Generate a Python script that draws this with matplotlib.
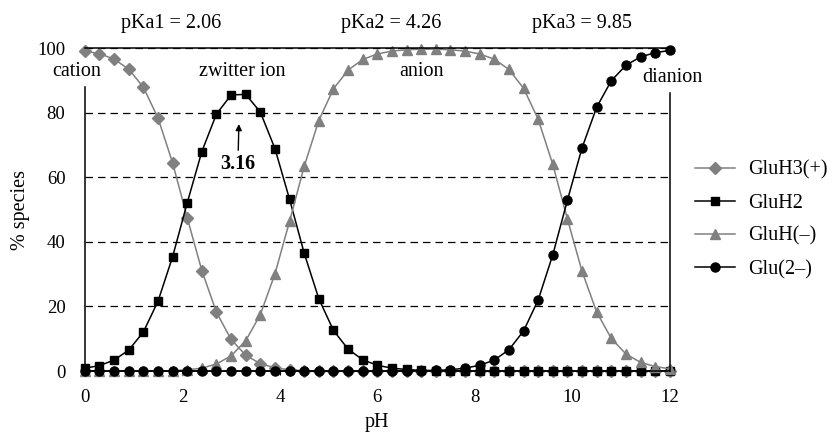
#import libraries
import numpy as np
import matplotlib.pyplot as plt

plt.rcParams['font.family'] = ['Liberation Serif', 'DejaVu Serif']

#pH values, one point every 0.3
ph = [0.0, 0.3, 0.6, 0.9, 1.2, 1.5, 1.8, 2.1, 2.4, 2.7, 3.0, 3.3, 3.6, 3.9, 4.2,
      4.5, 4.8, 5.1, 5.4, 5.7, 6.0, 6.3, 6.6, 6.9, 7.2, 7.5, 7.8, 8.1, 8.4, 8.7,
      9.0, 9.3, 9.6, 9.9, 10.2, 10.5, 10.8, 11.1, 11.4, 11.7, 12.0]

#% of each species
gluh3 = [99.1, 98.3, 96.6, 93.5, 87.9, 78.4, 64.5, 47.5, 31.1, 18.2, 9.8, 4.9, 2.3, 1.0, 0.4,
         0.1, 0.0, 0.0, 0.0, 0.0, 0.0, 0.0, 0.0, 0.0, 0.0, 0.0, 0.0, 0.0, 0.0, 0.0,
         0.0, 0.0, 0.0, 0.0, 0.0, 0.0, 0.0, 0.0, 0.0, 0.0, 0.0]
gluh2 = [0.9, 1.7, 3.4, 6.5, 12.1, 21.6, 35.4, 52.1, 68.0, 79.6, 85.5, 85.7, 80.2, 68.9, 53.2,
         36.5, 22.4, 12.6, 6.8, 3.5, 1.8, 0.9, 0.5, 0.2, 0.1, 0.1, 0.0, 0.0, 0.0, 0.0,
         0.0, 0.0, 0.0, 0.0, 0.0, 0.0, 0.0, 0.0, 0.0, 0.0, 0.0]
gluh = [0.0, 0.0, 0.0, 0.0, 0.0, 0.0, 0.1, 0.4, 0.9, 2.2, 4.7, 9.4, 17.5, 30.1, 46.4,
        63.4, 77.6, 87.4, 93.2, 96.5, 98.2, 99.1, 99.5, 99.7, 99.7, 99.5, 99.1, 98.2, 96.6, 93.4,
        87.6, 78.0, 64.0, 47.1, 30.9, 18.3, 10.1, 5.3, 2.7, 1.4, 0.7]
glu2 = [0.0, 0.0, 0.0, 0.0, 0.0, 0.0, 0.0, 0.0, 0.0, 0.0, 0.0, 0.0, 0.0, 0.0, 0.0,
        0.0, 0.0, 0.0, 0.0, 0.0, 0.0, 0.0, 0.1, 0.1, 0.2, 0.4, 0.9, 1.8, 3.4, 6.6,
        12.4, 22.0, 36.0, 52.9, 69.1, 81.7, 89.9, 94.7, 97.3, 98.6, 99.3]

labels = ['GluH3(+)', 'GluH2', 'GluH(–)', 'Glu(2–)']
pka_text = ['pKa1 = 2.06', 'pKa2 = 4.26', 'pKa3 = 9.85']
pka_x = [1.78, 6.28, 10.2]

grey = '#808080'
fs = 14.5

#create the figure
fig = plt.figure(figsize=(8.32, 4.34), dpi=100)
ax = fig.add_axes([0.102, 0.145, 0.703, 0.744])

ax.plot(ph, gluh3, color=grey, marker='D', markersize=6, lw=1.1, clip_on=False, label=labels[0])
ax.plot(ph, gluh2, color='black', marker='s', markersize=6, lw=1.1, clip_on=False, label=labels[1])
ax.plot(ph, gluh, color=grey, marker='^', markersize=6.5, lw=1.1, clip_on=False, label=labels[2])
ax.plot(ph, glu2, color='black', marker='o', markersize=6.5, lw=1.1, clip_on=False, label=labels[3])

ax.set_xlim(0, 12)
ax.set_ylim(0, 100)
ax.set_xticks([0, 2, 4, 6, 8, 10, 12])
ax.set_yticks([0, 20, 40, 60, 80, 100])
ax.tick_params(axis='x', length=3, pad=10, labelsize=13.5)
ax.tick_params(axis='y', length=0, pad=14, labelsize=13.5)
ax.yaxis.grid(True, linestyle=(0, (6, 4)), color='black', lw=0.9)
ax.set_axisbelow(True)

for s in ['left', 'right', 'top', 'bottom']:
    ax.spines[s].set_linewidth(1.1)
ax.spines['left'].set_bounds(0, 88)
ax.spines['right'].set_bounds(0, 86)

ax.set_xlabel('pH', fontsize=fs, labelpad=5)
ax.set_ylabel('% species', fontsize=fs, labelpad=5)

#text labels
for t, x in zip(pka_text, pka_x):
    ax.text(x, 106.2, t, ha='center', va='baseline', fontsize=fs)
ax.text(-0.16, 91.3, 'cation', ha='center', va='baseline', fontsize=fs)
ax.text(3.23, 91.3, 'zwitter ion', ha='center', va='baseline', fontsize=fs)
ax.text(6.9, 91.3, 'anion', ha='center', va='baseline', fontsize=fs)
ax.text(12.06, 89.5, 'dianion', ha='center', va='baseline', fontsize=fs)

ax.annotate('3.16', xy=(3.16, 76.5), xytext=(3.14, 64), ha='center', va='center',
            fontsize=fs, fontweight='bold',
            arrowprops=dict(arrowstyle='-|>', color='black', lw=1, mutation_scale=9, shrinkA=1, shrinkB=0))

ax.legend(loc='upper left', bbox_to_anchor=(0.835, 0.63), bbox_transform=fig.transFigure,
          frameon=False, fontsize=fs, handlelength=2.0, handletextpad=0.65,
          labelspacing=0.69, borderpad=0, borderaxespad=0)

plt.savefig('out.png', dpi=100)
